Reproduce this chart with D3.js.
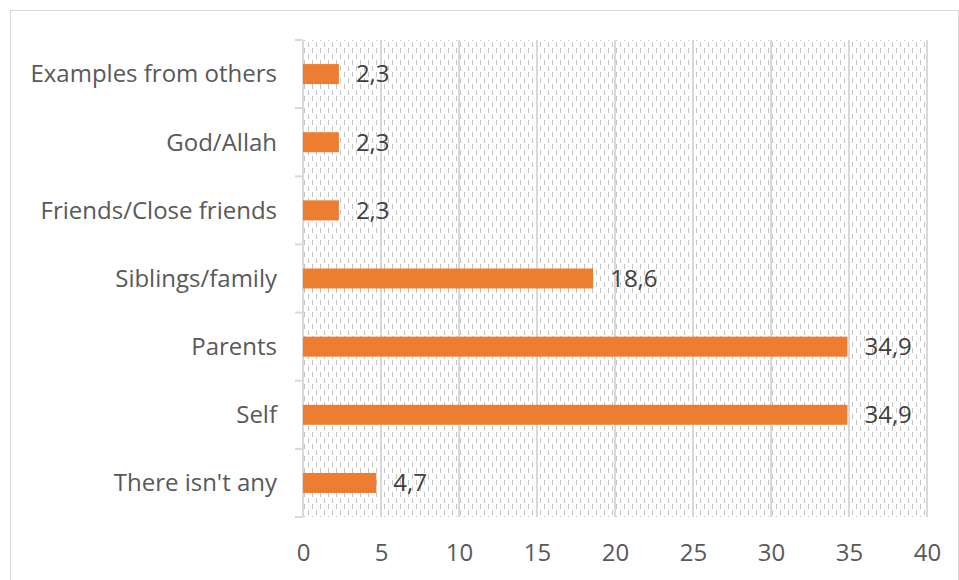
<!DOCTYPE html>
<html>
<head>
<meta charset="utf-8">
<script src="https://cdn.jsdelivr.net/npm/d3@7"></script>
<style>
  body { margin: 0; background: #fff; }
  text { font-family: "Open Sans", sans-serif; }
</style>
</head>
<body>
<svg id="chart" width="959" height="580"></svg>
<script>
// data, top to bottom as in the picture
var categories = ["Examples from others", "God/Allah", "Friends/Close friends", "Siblings/family", "Parents", "Self", "There isn't any"];
var values = [2.3, 2.3, 2.3, 18.6, 34.9, 34.9, 4.7];
var xTicks = [0, 5, 10, 15, 20, 25, 30, 35, 40];

var svg = d3.select("#chart");
var plotL = 303, plotR = 927, plotT = 40, plotB = 517;
var fs = 24;

// outer frame
svg.append("rect")
  .attr("x", 10.5).attr("y", 10.5)
  .attr("width", 948).attr("height", 600)
  .attr("fill", "#fff").attr("stroke", "#d9d9d9").attr("stroke-width", 1);

// dashed vertical pattern for plot background
var defs = svg.append("defs");
var pat = defs.append("pattern")
  .attr("id", "dashv")
  .attr("patternUnits", "userSpaceOnUse")
  .attr("width", 8).attr("height", 12);
pat.append("rect").attr("width", 8).attr("height", 12).attr("fill", "#fff");
[[0.5, 0, 5], [4.5, 6, 11]].forEach(function(d) {
  pat.append("line")
    .attr("x1", d[0]).attr("x2", d[0])
    .attr("y1", d[1]).attr("y2", d[2])
    .attr("stroke", "#c4c4c4").attr("stroke-width", 1);
});

var x = d3.scaleLinear().domain([0, 40]).range([plotL, plotR]);
var y = d3.scaleBand().domain(categories).range([plotT, plotB]).paddingInner(0).paddingOuter(0);

svg.append("rect")
  .attr("x", plotL).attr("y", plotT)
  .attr("width", plotR - plotL).attr("height", plotB - plotT)
  .attr("fill", "url(#dashv)");

// vertical gridlines
svg.append("g").selectAll("line")
  .data(xTicks.slice(1))
  .join("line")
  .attr("x1", function(d) { return x(d); })
  .attr("x2", function(d) { return x(d); })
  .attr("y1", plotT).attr("y2", plotB)
  .attr("stroke", "#d9d9d9").attr("stroke-width", 2);

// y axis line + ticks at band edges
var edges = categories.map(function(c) { return y(c); }).concat([plotB]);
svg.append("line")
  .attr("x1", plotL).attr("x2", plotL)
  .attr("y1", plotT).attr("y2", plotB)
  .attr("stroke", "#d9d9d9").attr("stroke-width", 2);
svg.append("g").selectAll("line")
  .data(edges)
  .join("line")
  .attr("x1", plotL - 8).attr("x2", plotL)
  .attr("y1", function(d) { return d; })
  .attr("y2", function(d) { return d; })
  .attr("stroke", "#d9d9d9").attr("stroke-width", 2);

// bars
var barH = 20;
svg.append("g").selectAll("rect")
  .data(values)
  .join("rect")
  .attr("x", x(0))
  .attr("y", function(d, i) { return y(categories[i]) + y.bandwidth() / 2 - barH / 2; })
  .attr("width", function(d) { return x(d) - x(0); })
  .attr("height", barH)
  .attr("fill", "#ed7d31");

// value labels
svg.append("g").selectAll("text")
  .data(values)
  .join("text")
  .attr("x", function(d) { return x(d) + 17; })
  .attr("y", function(d, i) { return y(categories[i]) + y.bandwidth() / 2; })
  .attr("dy", "0.35em")
  .attr("font-size", fs)
  .attr("fill", "#404040")
  .text(function(d) { return String(d).replace(".", ","); });

// category labels
svg.append("g").selectAll("text")
  .data(categories)
  .join("text")
  .attr("x", 277)
  .attr("y", function(d) { return y(d) + y.bandwidth() / 2; })
  .attr("dy", "0.35em")
  .attr("text-anchor", "end")
  .attr("font-size", fs)
  .attr("fill", "#595959")
  .text(function(d) { return d; });

// x axis labels
var xAxis = d3.axisBottom(x).tickValues(xTicks).tickSize(0).tickPadding(0);
var gx = svg.append("g").attr("transform", "translate(0," + (plotB + 27) + ")").call(xAxis);
gx.select(".domain").remove();
gx.selectAll("text")
  .attr("font-size", fs)
  .attr("fill", "#595959")
  .attr("font-family", "'Open Sans', sans-serif");
</script>
</body>
</html>
